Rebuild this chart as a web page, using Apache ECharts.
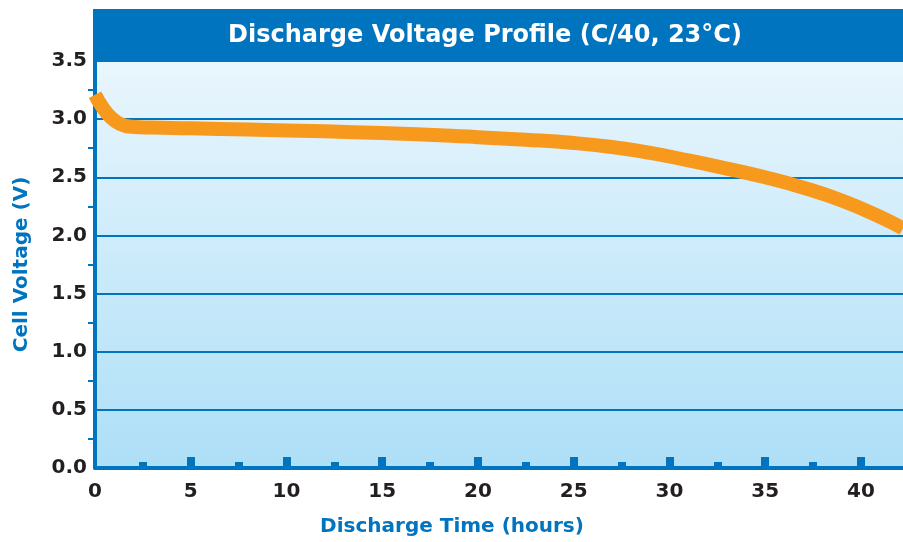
<!DOCTYPE html>
<html>
<head>
<meta charset="utf-8">
<script src="https://cdn.jsdelivr.net/npm/echarts@6/dist/echarts.min.js"></script>
<style>
  html, body { margin: 0; padding: 0; background: #fff; }
  #chart { width: 903px; height: 542px; }
</style>
</head>
<body>
<div id="chart"></div>
<script>
// discharge curve
var hours = [0, 0.4, 0.8, 1.3, 1.9, 3, 5, 8, 12, 15, 18.6, 20, 22.5, 25, 27, 29, 31, 33, 35, 37, 39, 41, 42.2];
var volts = [3.21, 3.10, 3.02, 2.96, 2.935, 2.928, 2.922, 2.91, 2.895, 2.88, 2.857, 2.845, 2.823, 2.795, 2.76, 2.71, 2.645, 2.575, 2.50, 2.41, 2.30, 2.16, 2.06];
var xLabels = [0, 5, 10, 15, 20, 25, 30, 35, 40];
var xMajorTicks = [5, 10, 15, 20, 25, 30, 35, 40];
var xMinorTicks = [2.5, 7.5, 12.5, 17.5, 22.5, 27.5, 32.5, 37.5];
var titleText = 'Discharge Voltage Profile (C/40, 23°C)';

var points = [];
for (var i = 0; i < hours.length; i++) {
    points.push([hours[i], volts[i]]);
}

var blue = '#0074bf';
var font = 'DejaVu Sans';

var myChart = echarts.init(document.getElementById('chart'));
var option = {
    animation: false,
    graphic: [
        {
            type: 'rect',
            shape: {x: 93, y: 9, width: 810, height: 52},
            style: {fill: blue}
        },
        {
            type: 'text',
            x: 485, y: 36,
            style: {
                text: titleText,
                fill: '#fff',
                font: 'bold 24px ' + font,
                textAlign: 'center',
                textVerticalAlign: 'middle'
            }
        }
    ],
    grid: {
        left: 95, right: 0, top: 61, bottom: 72,
        show: true,
        borderWidth: 0,
        backgroundColor: new echarts.graphic.LinearGradient(0, 0, 0, 1, [
            {offset: 0, color: '#e9f6fd'},
            {offset: 1, color: '#addff7'}
        ])
    },
    xAxis: [
        {
            type: 'value',
            min: 0, max: 42.2,
            name: 'Discharge Time (hours)',
            nameLocation: 'middle',
            nameGap: 49,
            nameTextStyle: {color: blue, fontFamily: font, fontWeight: 'bold', fontSize: 20,
                padding: [0, 94, 0, 0]},
            axisLine: {lineStyle: {color: blue, width: 4}},
            axisTick: {inside: true, length: 11, customValues: xMajorTicks,
                lineStyle: {color: blue, width: 8}},
            axisLabel: {color: '#231f20', fontFamily: font, fontWeight: 'bold', fontSize: 20, margin: 14,
                customValues: xLabels},
            splitLine: {show: false}
        },
        {
            // second copy of the axis only for the short half-step ticks
            type: 'value',
            position: 'bottom',
            min: 0, max: 42.2,
            axisLine: {show: false},
            axisTick: {inside: true, length: 6, customValues: xMinorTicks,
                lineStyle: {color: blue, width: 8}},
            axisLabel: {show: false},
            splitLine: {show: false}
        }
    ],
    yAxis: {
        type: 'value',
        min: 0, max: 3.5, interval: 0.5,
        name: 'Cell Voltage (V)',
        nameLocation: 'middle',
        nameGap: 63,
        nameTextStyle: {color: blue, fontFamily: font, fontWeight: 'bold', fontSize: 20},
        axisLine: {show: true, lineStyle: {color: blue, width: 4}},
        axisTick: {show: false},
        minorTick: {show: true, splitNumber: 2, length: 7, lineStyle: {color: blue, width: 2}},
        axisLabel: {color: '#231f20', fontFamily: font, fontWeight: 'bold', fontSize: 20, margin: 8,
            formatter: function (v) { return v.toFixed(1); }},
        splitLine: {lineStyle: {color: blue, width: 2}}
    },
    series: [
        {
            type: 'line',
            data: points,
            smooth: 0.5,
            showSymbol: false,
            clip: true,
            lineStyle: {color: '#f7991d', width: 14, cap: 'butt', join: 'round'}
        }
    ]
};
myChart.setOption(option);
</script>
</body>
</html>
